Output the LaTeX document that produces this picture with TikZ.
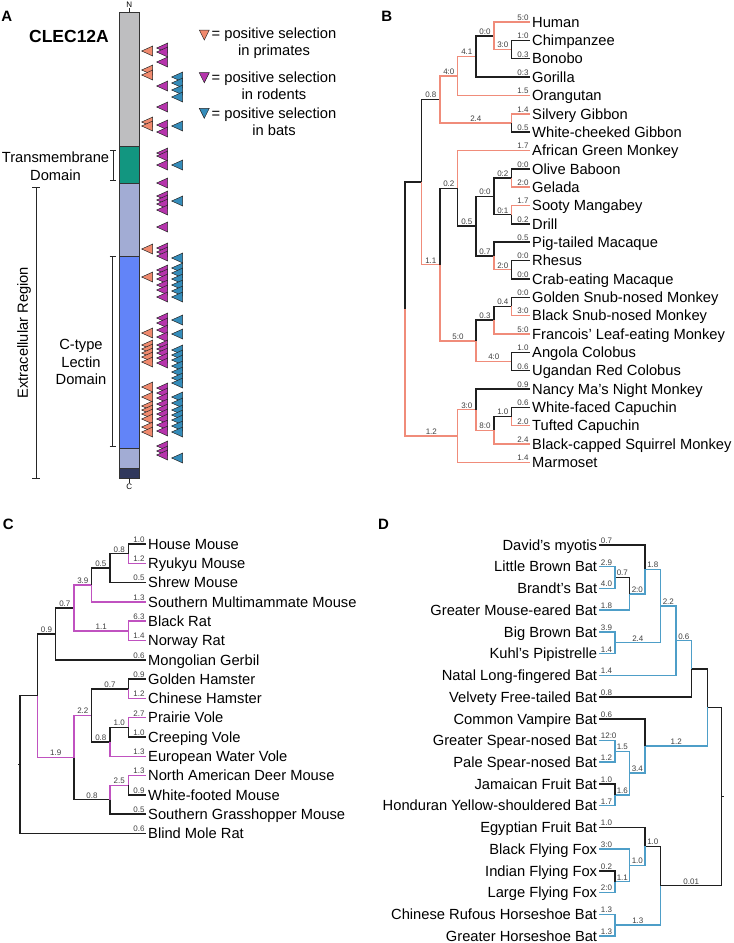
\documentclass[tikz,border=0pt]{standalone}
\usepackage{fontspec}
\setmainfont{Liberation Sans}

\definecolor{primcol}{RGB}{240,140,122}
\definecolor{rodcol}{RGB}{192,82,192}
\definecolor{batcol}{RGB}{78,158,200}
\definecolor{primtri}{RGB}{240,138,110}
\definecolor{rodtri}{RGB}{182,52,172}
\definecolor{battri}{RGB}{52,140,186}
\definecolor{barGray}{RGB}{190,190,192}
\definecolor{tmTeal}{RGB}{18,150,128}
\definecolor{exLight}{RGB}{162,172,212}
\definecolor{ctlBlue}{RGB}{98,132,248}
\definecolor{cNavy}{RGB}{48,56,92}

\tikzset{
  br/.style={line width=1.5pt, draw=black!88},
  pr/.style={line width=1.5pt, draw=primcol},
  ro/.style={line width=1.5pt, draw=rodcol},
  bt/.style={line width=1.5pt, draw=batcol},
  bl/.style={font=\fontsize{8}{8}\selectfont, text=black!75, inner sep=0.8pt},
  lbE/.style={bl, pos=1, anchor=south east},
  lbW/.style={bl, pos=1, anchor=south west},
  lbM/.style={bl, pos=0.75, anchor=south},
  sp/.style={font=\fontsize{14.7}{15}\selectfont, inner sep=2pt, text height=11pt, text depth=0.5pt},
  lfR/.style={sp, anchor=west},
  lfL/.style={sp, anchor=east},
  pa/.style={font=\fontsize{14.7}{17}\selectfont, inner sep=0pt},
  panel/.style={font=\bfseries\fontsize{15}{15}\selectfont},
  tri/.style={draw=black!85, line width=0.5pt},
  brk/.style={line width=0.8pt, draw=black!85}
}

\begin{document}
\begin{tikzpicture}[x=1pt, y=-1pt]
\useasboundingbox (0,0) rectangle (734,943);

%%% A
\node[panel] (labA) at (6.7,16.5) {A};
\node[font=\bfseries\fontsize{17.5}{18}\selectfont] (gene) at (69,36.7) {CLEC12A};
\filldraw[fill=barGray, draw=black!80, line width=0.8pt] (119.3,12.3) rectangle (139.3,146.7);
\filldraw[fill=tmTeal, draw=black!80, line width=0.8pt] (119.3,146.7) rectangle (139.3,183.3);
\filldraw[fill=exLight, draw=black!80, line width=0.8pt] (119.3,183.3) rectangle (139.3,256);
\filldraw[fill=ctlBlue, draw=black!80, line width=0.8pt] (119.3,256) rectangle (139.3,448.3);
\filldraw[fill=exLight, draw=black!80, line width=0.8pt] (119.3,448.3) rectangle (139.3,468.3);
\filldraw[fill=cNavy, draw=black!80, line width=0.8pt] (119.3,468.3) rectangle (139.3,478.3);
\draw[brk] (129.3,12.3) -- (129.3,8) node[above, inner sep=0.5pt, font=\fontsize{8}{8}\selectfont] (nterm) {N};
\draw[brk] (129.3,478.3) -- (129.3,483) node[below, inner sep=0.8pt, font=\fontsize{8}{8}\selectfont] (cterm) {C};
\draw[brk] (110.3,150) -- (116.3,150) (113.3,150) -- (113.3,180) (110.3,180) -- (116.3,180);
\draw[brk] (32,187.3) -- (40,187.3) (36,187.3) -- (36,478.3) (32,478.3) -- (40,478.3);
\draw[brk] (109.7,256.7) -- (115.7,256.7) (112.7,256.7) -- (112.7,446.7) (109.7,446.7) -- (115.7,446.7);
\node[pa, align=center, font=\fontsize{14.7}{18.3}\selectfont] (tmtext) at (55.5,166) {Transmembrane\\Domain};
\node[pa, rotate=90] (extext) at (24,332.7) {Extracellular Region};
\node[pa, align=center, font=\fontsize{14.7}{17.7}\selectfont] (ctltext) at (81,362) {C-type\\Lectin\\Domain};
% legend
\filldraw[tri, fill=primtri] (199.3,30) -- (209.3,30) -- (204.3,40) -- cycle;
\filldraw[tri, fill=rodtri] (199.3,72.7) -- (209.3,72.7) -- (204.3,82.7) -- cycle;
\filldraw[tri, fill=battri] (199.3,108.3) -- (209.3,108.3) -- (204.3,118.3) -- cycle;
\node[pa, align=center] (legP) at (274,43.5) {= positive selection\\in primates};
\node[pa, align=center] (legR) at (274,86) {= positive selection\\in rodents};
\node[pa, align=center] (legB) at (274,121.7) {= positive selection\\in bats};
% sites
\foreach \y in {51,70,75,122,126,249,277,333,345,349,353,357,362,387,397,406,410,414,419,427,432}
  \filldraw[tri, fill=primtri] (141.7,\y) -- ++(11,-5) -- ++(0,10) -- cycle;
\foreach \y in {48,52,62,86,107,125,132,153,156,165,183,196,200,204,210,227,248,252,256,270,274,279,285,290,297,318,323,330,337,345,349,353,358,363,388,393,398,404,409,414,419,425,431,446,451,455}
  \filldraw[tri, fill=rodtri] (156.7,\y) -- ++(11,-5) -- ++(0,10) -- cycle;
\foreach \y in {77,83,90,97,126,165,201,258,268,273,279,285,291,297,320,334,350,355,360,366,372,378,383,397,403,410,415,420,426,432,458}
  \filldraw[tri, fill=battri] (171.7,\y) -- ++(11,-5) -- ++(0,10) -- cycle;

%%% B
\node[panel] (labB) at (386.7,16.5) {B};
\node[lfR] (human) at (530,22) {Human};
\node[lfR] (chimp) at (530,40.35) {Chimpanzee};
\node[lfR] (bonobo) at (530,58.7) {Bonobo};
\node[lfR] (gorilla) at (530,77.05) {Gorilla};
\node[lfR] (orang) at (530,95.4) {Orangutan};
\node[lfR] (silvery) at (530,113.75) {Silvery Gibbon};
\node[lfR] (whitecheek) at (530,132.1) {White-cheeked Gibbon};
\node[lfR] (agm) at (530,150.45) {African Green Monkey};
\node[lfR] (olive) at (530,168.8) {Olive Baboon};
\node[lfR] (gelada) at (530,187.15) {Gelada};
\node[lfR] (sooty) at (530,205.5) {Sooty Mangabey};
\node[lfR] (drill) at (530,223.85) {Drill};
\node[lfR] (pigtail) at (530,242.2) {Pig-tailed Macaque};
\node[lfR] (rhesus) at (530,260.55) {Rhesus};
\node[lfR] (crab) at (530,278.9) {Crab-eating Macaque};
\node[lfR] (golden) at (530,297.25) {Golden Snub-nosed Monkey};
\node[lfR] (blacksnub) at (530,315.6) {Black Snub-nosed Monkey};
\node[lfR] (francois) at (530,333.95) {Francois' Leaf-eating Monkey};
\node[lfR] (angola) at (530,352.3) {Angola Colobus};
\node[lfR] (ugandan) at (530,370.65) {Ugandan Red Colobus};
\node[lfR] (nancy) at (530,389) {Nancy Ma's Night Monkey};
\node[lfR] (whiteface) at (530,407.35) {White-faced Capuchin};
\node[lfR] (tufted) at (530,425.7) {Tufted Capuchin};
\node[lfR] (squirrel) at (530,444.05) {Black-capped Squirrel Monkey};
\node[lfR] (marmoset) at (530,462.4) {Marmoset};

\coordinate (bCB) at (511.7,49.5);
\coordinate (bHCB) at (494,35.75);
\coordinate (bHCBG) at (476,56.4);
\coordinate (bGreat) at (457.7,75.9);
\coordinate (bGib) at (511.7,122.9);
\coordinate (bApes) at (440,99.4);
\coordinate (bOG) at (511.7,178);
\coordinate (bSD) at (511.7,214.7);
\coordinate (bPap) at (494,196.3);
\coordinate (bRC) at (511.7,269.7);
\coordinate (bMac) at (494,255.95);
\coordinate (bPapMac) at (476,226.1);
\coordinate (bCerc) at (457.7,188.3);
\coordinate (bGS) at (511.7,306.4);
\coordinate (bRhino) at (494,320.2);
\coordinate (bCol) at (511.7,361.5);
\coordinate (bColob) at (476,340.85);
\coordinate (bOWM) at (440,264.6);
\coordinate (bCat) at (421.7,182);
\coordinate (bCap) at (511.7,416.5);
\coordinate (bCeb) at (494,430.3);
\coordinate (bNeb) at (476,409.65);
\coordinate (bNWM) at (457.7,436);
\coordinate (bRoot) at (405,309);

\draw[br] (bRoot) |- (bCat);
\draw[pr] (bRoot) |- (bNWM) node[lbM] {1.2};
\draw[br] (bCat) |- (bApes) node[lbM] {0.8};
\draw[pr] (bCat) |- (bOWM) node[lbM] {1.1};
\draw[pr] (bApes) |- (bGreat) node[lbM] {4:0};
\draw[pr] (bApes) |- (bGib) node[lbM] {2.4};
\draw[pr] (bGreat) |- (bHCBG) node[lbM] {4.1};
\draw[pr] (bGreat) |- (orang.west) node[lbE] {1.5};
\draw[br] (bHCBG) |- (bHCB) node[lbM] {0:0};
\draw[br] (bHCBG) |- (gorilla.west) node[lbE] {0:3};
\draw[pr] (bHCB) |- (human.west) node[lbE] {5:0};
\draw[pr] (bHCB) |- (bCB) node[lbM] {3:0};
\draw[br] (bCB) |- (chimp.west) node[lbE] {1:0};
\draw[br] (bCB) |- (bonobo.west) node[lbE] {0.3};
\draw[pr] (bGib) |- (silvery.west) node[lbE] {1.4};
\draw[br] (bGib) |- (whitecheek.west) node[lbE] {0.5};
\draw[br] (bOWM) |- (bCerc) node[lbM] {0.2};
\draw[pr] (bOWM) |- (bColob) node[lbM] {5:0};
\draw[pr] (bCerc) |- (agm.west) node[lbE] {1.7};
\draw[br] (bCerc) |- (bPapMac) node[lbM] {0.5};
\draw[br] (bPapMac) |- (bPap) node[lbM] {0:0};
\draw[br] (bPapMac) |- (bMac) node[lbM] {0.7};
\draw[br] (bPap) |- (bOG) node[lbM] {0:2};
\draw[br] (bPap) |- (bSD) node[lbM] {0:1};
\draw[br] (bOG) |- (olive.west) node[lbE] {0:0};
\draw[pr] (bOG) |- (gelada.west) node[lbE] {2:0};
\draw[pr] (bSD) |- (sooty.west) node[lbE] {1.7};
\draw[br] (bSD) |- (drill.west) node[lbE] {0.2};
\draw[br] (bMac) |- (pigtail.west) node[lbE] {0.5};
\draw[pr] (bMac) |- (bRC) node[lbM] {2:0};
\draw[br] (bRC) |- (rhesus.west) node[lbE] {0:0};
\draw[br] (bRC) |- (crab.west) node[lbE] {0:0};
\draw[br] (bColob) |- (bRhino) node[lbM] {0.3};
\draw[pr] (bColob) |- (bCol) node[lbM] {4:0};
\draw[br] (bRhino) |- (bGS) node[lbM] {0.4};
\draw[pr] (bRhino) |- (francois.west) node[lbE] {5:0};
\draw[br] (bGS) |- (golden.west) node[lbE] {0:0};
\draw[pr] (bGS) |- (blacksnub.west) node[lbE] {3:0};
\draw[br] (bCol) |- (angola.west) node[lbE] {1.0};
\draw[br] (bCol) |- (ugandan.west) node[lbE] {0.6};
\draw[pr] (bNWM) |- (bNeb) node[lbM] {3:0};
\draw[pr] (bNWM) |- (marmoset.west) node[lbE] {1.4};
\draw[br] (bNeb) |- (nancy.west) node[lbE] {0.9};
\draw[pr] (bNeb) |- (bCeb) node[lbM] {8:0};
\draw[br] (bCeb) |- (bCap) node[lbM] {1.0};
\draw[pr] (bCeb) |- (squirrel.west) node[lbE] {2.4};
\draw[br] (bCap) |- (whiteface.west) node[lbE] {0.6};
\draw[pr] (bCap) |- (tufted.west) node[lbE] {2.0};

%%% C
\node[panel] (labC) at (8.3,524) {C};
\node[lfR] (house) at (146,544) {House Mouse};
\node[lfR] (ryukyu) at (146,563.3) {Ryukyu Mouse};
\node[lfR] (shrew) at (146,582.6) {Shrew Mouse};
\node[lfR] (smm) at (146,601.9) {Southern Multimammate Mouse};
\node[lfR] (blackrat) at (146,621.2) {Black Rat};
\node[lfR] (norway) at (146,640.5) {Norway Rat};
\node[lfR] (gerbil) at (146,659.8) {Mongolian Gerbil};
\node[lfR] (ghamster) at (146,679.1) {Golden Hamster};
\node[lfR] (chamster) at (146,698.4) {Chinese Hamster};
\node[lfR] (prairie) at (146,717.7) {Prairie Vole};
\node[lfR] (creeping) at (146,737) {Creeping Vole};
\node[lfR] (watervole) at (146,756.3) {European Water Vole};
\node[lfR] (deermouse) at (146,775.6) {North American Deer Mouse};
\node[lfR] (whitefoot) at (146,794.9) {White-footed Mouse};
\node[lfR] (grasshopper) at (146,814.2) {Southern Grasshopper Mouse};
\node[lfR] (molerat) at (146,833.5) {Blind Mole Rat};

\coordinate (cHR) at (128.3,553.65);
\coordinate (cHRS) at (110,568.1);
\coordinate (cMus) at (91.7,585);
\coordinate (cRat) at (128.3,630.85);
\coordinate (cMur) at (74,607.9);
\coordinate (cMurG) at (55.7,633.85);
\coordinate (cHam) at (128.3,688.75);
\coordinate (cPC) at (128.3,727.35);
\coordinate (cVole) at (110,741.8);
\coordinate (cCri) at (91.7,715.3);
\coordinate (cPero) at (128.3,785.25);
\coordinate (cNeo) at (110,799.7);
\coordinate (cCric) at (74,757.5);
\coordinate (cMuroid) at (37.3,695.7);
\coordinate (cRoot) at (20,764.6);

\draw[br] (cRoot) -- ++(-2.5,0);
\draw[br] (cRoot) |- (cMuroid);
\draw[br] (cRoot) |- (molerat.west) node[lbE] {0.6};
\draw[br] (cMuroid) |- (cMurG) node[lbM] {0.9};
\draw[ro] (cMuroid) |- (cCric) node[lbM] {1.9};
\draw[br] (cMurG) |- (cMur) node[lbM] {0.7};
\draw[br] (cMurG) |- (gerbil.west) node[lbE] {0.6};
\draw[ro] (cMur) |- (cMus) node[lbM] {3.9};
\draw[ro] (cMur) |- (cRat) node[lbM] {1.1};
\draw[br] (cMus) |- (cHRS) node[lbM] {0.5};
\draw[ro] (cMus) |- (smm.west) node[lbE] {1.3};
\draw[br] (cHRS) |- (cHR) node[lbM] {0.8};
\draw[br] (cHRS) |- (shrew.west) node[lbE] {0.5};
\draw[br] (cHR) |- (house.west) node[lbE] {1.0};
\draw[ro] (cHR) |- (ryukyu.west) node[lbE] {1.2};
\draw[ro] (cRat) |- (blackrat.west) node[lbE] {6.3};
\draw[ro] (cRat) |- (norway.west) node[lbE] {1.4};
\draw[ro] (cCric) |- (cCri) node[lbM] {2.2};
\draw[br] (cCric) |- (cNeo) node[lbM] {0.8};
\draw[br] (cCri) |- (cHam) node[lbM] {0.7};
\draw[br] (cCri) |- (cVole) node[lbM] {0.8};
\draw[br] (cHam) |- (ghamster.west) node[lbE] {0.9};
\draw[ro] (cHam) |- (chamster.west) node[lbE] {1.2};
\draw[br] (cVole) |- (cPC) node[lbM] {1.0};
\draw[ro] (cVole) |- (watervole.west) node[lbE] {1.3};
\draw[ro] (cPC) |- (prairie.west) node[lbE] {2.7};
\draw[br] (cPC) |- (creeping.west) node[lbE] {1.0};
\draw[ro] (cNeo) |- (cPero) node[lbM] {2.5};
\draw[br] (cNeo) |- (grasshopper.west) node[lbE] {0.5};
\draw[ro] (cPero) |- (deermouse.west) node[lbE] {1.3};
\draw[br] (cPero) |- (whitefoot.west) node[lbE] {0.9};

%%% D
\node[panel] (labD) at (383.5,524) {D};
\node[lfL] (davids) at (599.3,545) {David's myotis};
\node[lfL] (littlebrown) at (599.3,566.72) {Little Brown Bat};
\node[lfL] (brandts) at (599.3,588.44) {Brandt's Bat};
\node[lfL] (mouseeared) at (599.3,610.16) {Greater Mouse-eared Bat};
\node[lfL] (bigbrown) at (599.3,631.88) {Big Brown Bat};
\node[lfL] (kuhls) at (599.3,653.6) {Kuhl's Pipistrelle};
\node[lfL] (natal) at (599.3,675.32) {Natal Long-fingered Bat};
\node[lfL] (velvety) at (599.3,697.04) {Velvety Free-tailed Bat};
\node[lfL] (vampire) at (599.3,718.76) {Common Vampire Bat};
\node[lfL] (gspear) at (599.3,740.48) {Greater Spear-nosed Bat};
\node[lfL] (pspear) at (599.3,762.2) {Pale Spear-nosed Bat};
\node[lfL] (jamaican) at (599.3,783.92) {Jamaican Fruit Bat};
\node[lfL] (honduran) at (599.3,805.64) {Honduran Yellow-shouldered Bat};
\node[lfL] (egyptian) at (599.3,827.36) {Egyptian Fruit Bat};
\node[lfL] (blackff) at (599.3,849.08) {Black Flying Fox};
\node[lfL] (indianff) at (599.3,870.8) {Indian Flying Fox};
\node[lfL] (largeff) at (599.3,892.52) {Large Flying Fox};
\node[lfL] (rufous) at (599.3,914.24) {Chinese Rufous Horseshoe Bat};
\node[lfL] (ghorse) at (599.3,935.96) {Greater Horseshoe Bat};

\coordinate (dLB) at (615,577.6);
\coordinate (dMy3) at (629.7,593.9);
\coordinate (dMyo) at (645,569.45);
\coordinate (dBK) at (615,642.74);
\coordinate (dVesp) at (660.7,606.1);
\coordinate (dVespN) at (676,640.7);
\coordinate (dVV) at (691.7,668.9);
\coordinate (dSpear) at (615,751.34);
\coordinate (dFruit) at (615,794.78);
\coordinate (dStn) at (629.7,773.06);
\coordinate (dPhyl) at (645,745.9);
\coordinate (dYango) at (707.3,707.4);
\coordinate (dIL) at (615,881.66);
\coordinate (dPter3) at (629.7,865.37);
\coordinate (dPter) at (645,846.37);
\coordinate (dRhin) at (615,925.1);
\coordinate (dYin) at (660.7,885.7);
\coordinate (dRoot) at (721.7,796.6);

\draw[br] (dRoot) -- ++(2.5,0);
\draw[br] (dRoot) |- (dYango);
\draw[br] (dRoot) |- (dYin) node[lbM] {0.01};
\draw[br] (dYango) |- (dVV);
\draw[bt] (dYango) |- (dPhyl) node[lbM] {1.2};
\draw[bt] (dVV) |- (dVespN) node[lbM] {0.6};
\draw[br] (dVV) |- (velvety.east) node[lbW] {0.8};
\draw[bt] (dVespN) |- (dVesp) node[lbM] {2.2};
\draw[bt] (dVespN) |- (natal.east) node[lbW] {1.4};
\draw[bt] (dVesp) |- (dMyo) node[lbM] {1.8};
\draw[bt] (dVesp) |- (dBK) node[lbM] {2.4};
\draw[br] (dMyo) |- (davids.east) node[lbW] {0.7};
\draw[bt] (dMyo) |- (dMy3) node[lbM] {2:0};
\draw[br] (dMy3) |- (dLB) node[lbM] {0.7};
\draw[bt] (dMy3) |- (mouseeared.east) node[lbW] {1.8};
\draw[bt] (dLB) |- (littlebrown.east) node[lbW] {2.9};
\draw[bt] (dLB) |- (brandts.east) node[lbW] {4.0};
\draw[bt] (dBK) |- (bigbrown.east) node[lbW] {3.9};
\draw[bt] (dBK) |- (kuhls.east) node[lbW] {1.4};
\draw[br] (dPhyl) |- (vampire.east) node[lbW] {0.6};
\draw[bt] (dPhyl) |- (dStn) node[lbM] {3.4};
\draw[bt] (dStn) |- (dSpear) node[lbM] {1.5};
\draw[bt] (dStn) |- (dFruit) node[lbM] {1.6};
\draw[bt] (dSpear) |- (gspear.east) node[lbW] {12:0};
\draw[bt] (dSpear) |- (pspear.east) node[lbW] {1.2};
\draw[br] (dFruit) |- (jamaican.east) node[lbW] {1.0};
\draw[bt] (dFruit) |- (honduran.east) node[lbW] {1.7};
\draw[br] (dYin) |- (dPter) node[lbM] {1.0};
\draw[bt] (dYin) |- (dRhin) node[lbM] {1.3};
\draw[br] (dPter) |- (egyptian.east) node[lbW] {1.0};
\draw[bt] (dPter) |- (dPter3) node[lbM] {1.0};
\draw[bt] (dPter3) |- (blackff.east) node[lbW] {3:0};
\draw[bt] (dPter3) |- (dIL) node[lbM] {1.1};
\draw[br] (dIL) |- (indianff.east) node[lbW] {0.2};
\draw[bt] (dIL) |- (largeff.east) node[lbW] {2:0};
\draw[bt] (dRhin) |- (rufous.east) node[lbW] {1.3};
\draw[bt] (dRhin) |- (ghorse.east) node[lbW] {1.3};
\end{tikzpicture}
\end{document}
